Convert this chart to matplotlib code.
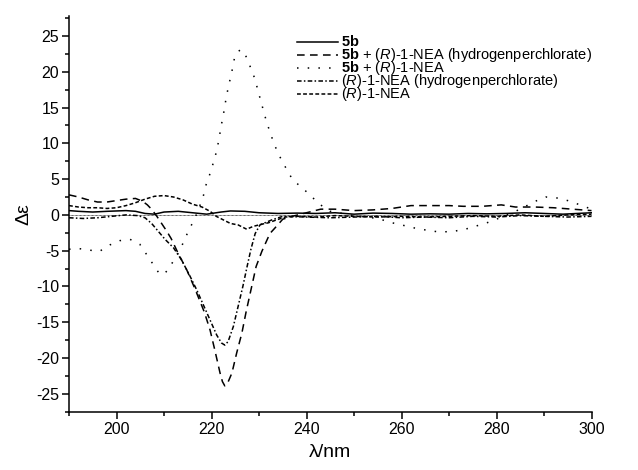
import numpy as np
import matplotlib as mplt
mplt.use("Agg")
import matplotlib.pyplot as plt
from matplotlib.ticker import MultipleLocator
from matplotlib.lines import Line2D

plt.rcParams['font.family'] = ['Liberation Sans', 'DejaVu Sans']
plt.rcParams['mathtext.fontset'] = 'custom'
plt.rcParams['mathtext.rm'] = 'Liberation Sans'
plt.rcParams['mathtext.it'] = 'Liberation Sans:italic'
plt.rcParams['mathtext.bf'] = 'Liberation Sans:bold'
plt.rcParams['axes.unicode_minus'] = False

# 5b
x_5b = [190, 192, 195, 198, 202, 204, 206, 208, 210, 213, 216, 219, 222, 224, 227,
        230, 234, 238, 242, 246, 250, 254, 258, 262, 266, 270, 274, 278, 282, 286,
        290, 294, 297, 300]
y_5b = [0.6, 0.5, 0.4, 0.5, 0.6, 0.5, 0.2, 0.1, 0.4, 0.5, 0.3, 0.1, 0.4, 0.55, 0.5,
        0.3, 0.2, 0.25, 0.2, 0.3, 0.1, 0.25, 0.2, 0.1, 0.15, 0.1, 0.2, 0.15, 0.2, 0.3,
        0.2, 0.1, 0.2, 0.3]

# 5b + (R)-1-NEA (hydrogenperchlorate)
x_5b_hp = [190, 192, 194, 196, 198, 200, 202, 204, 205.5, 206.5, 207.5, 208.5, 209.5,
           210.5, 211.5, 213, 214.8, 216.5, 218.5, 219.7, 220.7, 221.8, 222.3, 222.8,
           223.4, 224.3, 225.3, 226.4, 227.3, 228.3, 229.4, 230.6, 232.3, 233.4, 235,
           237, 240, 243, 246, 250, 254, 258, 262, 266, 270, 273, 277, 281, 284, 288,
           292, 296, 300]
y_5b_hp = [2.8, 2.5, 2.1, 1.8, 1.8, 2.0, 2.2, 2.3, 1.9, 1.4, 0.7, -0.2, -1.2,
           -2.2, -3.3, -5.4, -7.7, -10.3, -13.6, -16.1, -18.9, -22.1, -23.3, -23.9,
           -23.5, -22.1, -19.3, -16.5, -13.5, -10.5, -7.2, -5.1, -2.6, -1.8, -0.6,
           -0.2, 0.3, 0.8, 0.8, 0.6, 0.7, 0.9, 1.3, 1.3, 1.3, 1.2, 1.2, 1.4, 1.1, 1.1,
           1.0, 0.8, 0.6]

# 5b + (R)-1-NEA
x_5b_nea = [190, 192, 194, 196.4, 198.6, 200.7, 202.8, 204.9, 206.4, 207.7, 209, 210,
            210.9, 212.3, 213.4, 214.4, 215.5, 216.6, 217.5, 218.3, 218.8, 219.6, 220.3,
            220.9, 221.4, 221.8, 222.2, 222.6, 223, 223.4, 223.9, 224.4, 224.8, 225.5,
            226.2, 226.9, 227.5, 228.4, 229.2, 229.8, 230.4, 231, 231.6, 232.4, 233.2,
            234.1, 235.2, 237, 239, 240.6, 242.5, 245, 250, 255, 258, 260, 262.5, 265,
            268, 271, 274, 278, 280, 284, 288.8, 290.4, 292.5, 295, 297.6, 300]
y_5b_nea = [-4.8, -4.7, -4.9, -5.1, -4.2, -3.6, -3.4, -4.1, -5.6, -6.9, -8.2, -8.3,
            -7.6, -6.1, -4.9, -3.3, -1.8, -0.3, 1.2, 2.7, 4.1, 5.6, 7.1,
            8.5, 10, 11.5, 13, 14.4, 16, 17.4, 18.9, 20.4, 21.8, 22.8,
            23.1, 22.7, 21.8, 20.3, 18.9, 17.3, 15.9, 14.4, 13, 11.4, 9.9,
            8.5, 7.1, 5.0, 3.8, 2.9, 1.6, 0.5, -0.1, -0.5, -1.1, -1.4, -1.8, -2.1,
            -2.4, -2.3, -1.9, -1.1, -0.6, 0.5, 2.1, 2.5, 2.4, 2.0, 1.4, 0.8]

# (R)-1-NEA (hydrogenperchlorate)
x_nea_hp = [190, 193, 196, 199, 202, 204.5, 206, 207.4, 208.8, 210.2, 212, 213.7, 215.5,
            216.9, 218.3, 219.7, 221.1, 222.1, 222.8, 223.5, 224.6, 225.6, 226.6, 227.5,
            228.3, 229.2, 230.2, 232.7, 235, 240, 245, 250, 255, 260, 265, 270, 275,
            280, 285, 290, 295, 300]
y_nea_hp = [-0.4, -0.5, -0.4, -0.2, 0.0, -0.1, -0.4, -1.2, -2.3, -3.4, -4.6, -6.3, -8.6,
            -10.5, -12.6, -14.7, -16.8, -17.9, -18.2, -17.7, -15.6, -12.8, -10, -7.2,
            -4.8, -2.6, -1.4, -0.7, -0.2, -0.3, -0.4, -0.3, -0.2, -0.4, -0.3, -0.4, -0.2,
            -0.3, -0.1, -0.2, -0.3, -0.2]

# (R)-1-NEA
x_nea = [190, 192, 194, 196, 198, 200, 202, 204, 206, 208, 210, 212, 214, 216, 218,
         219.7, 221, 222.5, 224, 225.6, 227.4, 228.8, 230.6, 232, 233.7, 235.5, 238,
         242, 246, 250, 255, 260, 265, 270, 275, 280, 285, 290, 295, 300]
y_nea = [1.3, 1.1, 1.0, 1.0, 0.9, 1.0, 1.3, 1.7, 2.2, 2.6, 2.7, 2.5, 2.1, 1.5, 1.1,
         0.5, -0.2, -0.7, -1.2, -1.4, -2.0, -1.6, -1.3, -1.1, -0.7, -0.3, -0.2,
         -0.3, -0.1, -0.2, -0.3, -0.2, -0.3, -0.2, -0.1, -0.2, 0.0, -0.2, 0.0, 0.1]

labels = [r"$\mathbf{5b}$",
          r"$\mathbf{5b}$ + ($\mathit{R}$)-1-NEA (hydrogenperchlorate)",
          r"$\mathbf{5b}$ + ($\mathit{R}$)-1-NEA",
          r"($\mathit{R}$)-1-NEA (hydrogenperchlorate)",
          r"($\mathit{R}$)-1-NEA"]

styles = ["-", (0, (5, 3.5)), (0, (1, 6)), (0, (3, 1.5, 1, 1.5)), (0, (2.5, 1.5))]

fig = plt.figure(figsize=(6.38, 4.70), dpi=100)
W, H = 638.0, 470.0
ax = fig.add_axes([69/W, 1 - 412/H, (591.5 - 69)/W, (412 - 16)/H])

lw = 1.1
ax.axhline(0, color="k", lw=0.6, ls=(0, (0.8, 0.8)))
series = [(x_5b, y_5b), (x_5b_hp, y_5b_hp), (x_5b_nea, y_5b_nea),
          (x_nea_hp, y_nea_hp), (x_nea, y_nea)]
for (xs, ys), st in zip(series, styles):
    ax.plot(xs, ys, color="k", lw=lw, ls=st)

ax.set_xlim(190, 300)
ax.set_ylim(-27.55, 27.8)
ax.xaxis.set_major_locator(MultipleLocator(20))
ax.xaxis.set_minor_locator(MultipleLocator(10))
ax.yaxis.set_major_locator(MultipleLocator(5))
ax.yaxis.set_minor_locator(MultipleLocator(2.5))

ax.spines["top"].set_visible(False)
ax.spines["right"].set_visible(False)
for s in ["left", "bottom"]:
    ax.spines[s].set_linewidth(1.1)
ax.tick_params(which="major", direction="out", length=5, width=1.1, labelsize=11.5, pad=2)
ax.tick_params(which="minor", direction="out", length=3, width=1.1)

ax.set_xlabel("λ/nm", fontsize=14, labelpad=5)
ax.set_ylabel("Δε", fontsize=14, labelpad=3)

# legend drawn by hand, baseline-aligned so every row sits level with its line
row0, drow = 41.5, 13.2
for i, (lab, st) in enumerate(zip(labels, styles)):
    yy = 1 - (row0 + i * drow) / H
    fig.add_artist(Line2D([297/W, 338/W], [yy, yy], color="k", lw=lw, ls=st))
    fig.text(341/W, yy - 4/H, lab, fontsize=10.5, va="baseline", ha="left")

fig.savefig("out.png", dpi=100)
